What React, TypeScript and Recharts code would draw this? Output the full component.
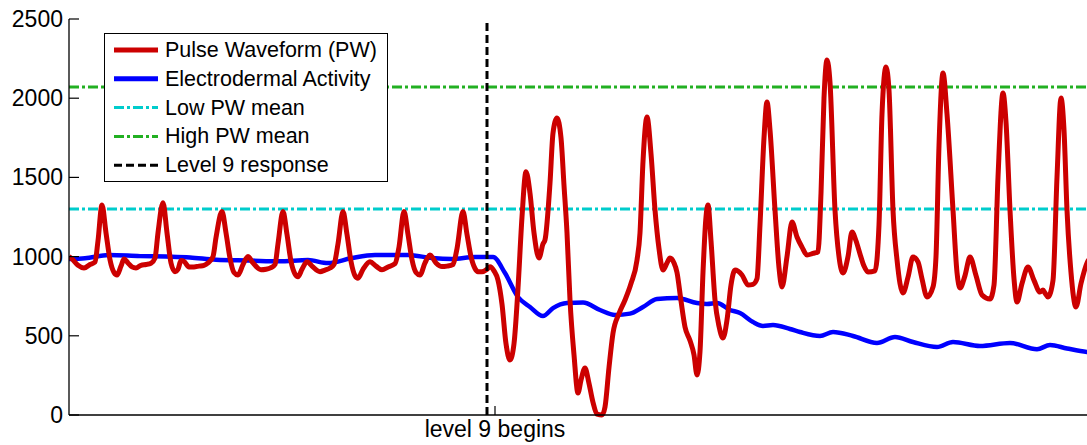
import React from 'react';
import { LineChart, Line, XAxis, YAxis, ReferenceLine } from 'recharts';

// time in samples from the start of the window
const pwTime = [
  0, 3, 9, 15, 21, 26, 29, 33, 37, 41, 45, 48, 52, 55, 59, 63, 67, 72, 77, 82, 86, 89, 94, 98, 102, 106, 109, 112, 115,
  120, 125, 130, 135, 139, 144, 147, 153, 157, 161, 165, 169, 174, 179, 184, 192, 197, 202, 206, 209, 214, 218, 222,
  226, 229, 233, 238, 243, 251, 256, 261, 265, 269, 274, 278, 282, 286, 289, 294, 301, 307, 313, 319, 326, 330, 335,
  339, 343, 347, 351, 356, 361, 367, 373, 378, 384, 388, 394, 398, 402, 406, 409, 413, 418, 421, 425, 429, 433, 437,
  441, 445, 449, 453, 457, 461, 465, 470, 474, 476, 481, 484, 488, 492, 495, 498, 501, 505, 509, 512, 516, 520, 524,
  528, 533, 536, 540, 544, 550, 556, 562, 568, 571, 574, 578, 582, 586, 590, 594, 598, 601, 605, 608, 612, 616, 621,
  625, 628, 631, 634, 637, 639, 642, 646, 650, 654, 658, 662, 666, 673, 679, 684, 688, 691, 695, 698, 701, 706, 710,
  713, 718, 723, 728, 733, 738, 744, 749, 752, 755, 758, 761, 766, 770, 774, 779, 783, 787, 791, 795, 799, 806, 810,
  813, 817, 820, 824, 828, 834, 839, 844, 849, 853, 858, 864, 867, 870, 874, 878, 884, 888, 891, 896, 901, 907, 913,
  921, 925, 929, 934, 937, 941, 945, 948, 953, 959, 965, 971, 974, 976, 979, 984, 988, 992, 995, 998, 1002, 1007,
  1012, 1018, 1023,
];
const pwValue = [
  1000, 985, 945, 928, 950, 966, 1100, 1326, 1150, 980, 900, 884, 940, 985, 960, 935, 928, 945, 950, 958, 990, 1150,
  1340, 1150, 960, 905, 920, 975, 970, 935, 935, 940, 945, 960, 1000, 1120, 1284, 1150, 990, 900, 884, 950, 1000, 960,
  917, 920, 930, 950, 1080, 1284, 1140, 970, 890, 873, 920, 968, 940, 905, 915, 928, 950, 1080, 1284, 1140, 970, 880,
  864, 920, 968, 940, 917, 935, 955, 1060, 1284, 1140, 980, 900, 884, 960, 1010, 960, 937, 940, 950, 1050, 1284, 1140,
  1000, 925, 905, 905, 920, 936, 910, 852, 700, 450, 347, 450, 800, 1250, 1536, 1400, 1150, 991, 1080, 1105, 1464,
  1780, 1875, 1750, 1450, 1150, 726, 380, 139, 220, 297, 200, 80, 5, 0, 50, 300, 517, 640, 726, 830, 978, 1150, 1600,
  1882, 1650, 1294, 1050, 915, 960, 991, 960, 900, 720, 556, 470, 380, 253, 400, 900, 1250, 1326, 1100, 726, 560, 486,
  600, 820, 915, 884, 821, 825, 860, 1200, 1750, 1976, 1800, 1294, 930, 808, 1000, 1218, 1124, 1060, 1010, 1020, 1030,
  1400, 2000, 2241, 2100, 1294, 1000, 896, 1000, 1155, 1100, 1017, 940, 903, 910, 1200, 1900, 2197, 2050, 1294, 980,
  770, 870, 997, 966, 860, 745, 808, 1000, 1700, 2159, 1900, 1294, 900, 802, 880, 997, 880, 758, 733, 820, 1500, 2033,
  1850, 1294, 860, 713, 830, 934, 850, 776, 789, 770, 745, 850, 1500, 2001, 1800, 1294, 900, 682, 830, 960, 1000,
];

const edaTime = [
  0, 16, 40, 71, 97, 121, 147, 181, 210, 239, 259, 283, 306, 339, 363, 383, 406, 424, 436, 449, 461, 474, 484, 498,
  514, 531, 546, 561, 574, 588, 608, 628, 638, 648, 661, 671, 684, 694, 704, 721, 731, 751, 764, 784, 808, 826, 844,
  868, 884, 911, 941, 968, 981, 998, 1018, 1023,
];
const edaValue = [
  985, 990, 1010, 1003, 1000, 995, 980, 975, 970, 978, 959, 991, 1010, 1010, 991, 985, 997, 997, 896, 745, 682, 625,
  675, 707, 710, 663, 631, 640, 682, 732, 739, 707, 701, 707, 663, 644, 587, 562, 568, 543, 524, 499, 524, 499, 455,
  493, 461, 429, 461, 436, 455, 415, 442, 420, 398, 395,
];

const yTicks = [0, 500, 1000, 1500, 2000, 2500];
const xTicks = [426];
const xTickLabels = ['level 9 begins'];
const lowPwMean = 1300;
const highPwMean = 2070;
const levelResponse = 418;
const xDomain = [0, 1020];

const pwData = pwTime.map((t, i) => ({ t, pw: pwValue[i] }));
const edaData = edaTime.map((t, i) => ({ t, eda: edaValue[i] }));

const FONT = '"Liberation Sans", Arial, Helvetica, sans-serif';
const RED = '#cc0000';
const BLUE = '#0000ff';
const CYAN = '#00cccc';
const GREEN = '#22b022';
const DASHDOT = '10 3 3 3';

const LeftTick = (props: any) => {
  const { x, y, payload } = props;
  return (
    <g>
      <line x1={x} y1={y} x2={x + 10} y2={y} stroke="#000" strokeWidth={1.2} />
      <text x={x - 6} y={y} textAnchor="end" dominantBaseline="central" fontSize={23} fontFamily={FONT} fill="#000">
        {payload.value}
      </text>
    </g>
  );
};

const RightTick = (props: any) => {
  const { x, y } = props;
  return <line x1={x - 9} y1={y} x2={x} y2={y} stroke="#000" strokeWidth={1.2} />;
};

const BottomTick = (props: any) => {
  const { x, y, index } = props;
  return (
    <g>
      <line x1={x} y1={y} x2={x} y2={y - 9} stroke="#000" strokeWidth={1.2} />
      <text x={x} y={y + 22} textAnchor="middle" fontSize={23} fontFamily={FONT} fill="#000">
        {xTickLabels[index]}
      </text>
    </g>
  );
};

const TopTick = (props: any) => {
  const { x, y } = props;
  return <line x1={x} y1={y} x2={x} y2={y + 9} stroke="#000" strokeWidth={1.2} />;
};

const legendItems = [
  { label: 'Pulse Waveform (PW)', color: RED, width: 5, dash: undefined },
  { label: 'Electrodermal Activity', color: BLUE, width: 5, dash: undefined },
  { label: 'Low PW mean', color: CYAN, width: 3, dash: DASHDOT },
  { label: 'High PW mean', color: GREEN, width: 3, dash: DASHDOT },
  { label: 'Level 9 response', color: '#000', width: 3, dash: '8 4' },
];

const LegendBox = () => (
  <div
    style={{
      position: 'absolute',
      left: 104,
      top: 33,
      width: 284,
      height: 149,
      border: '1.5px solid #000',
      background: '#fff',
      boxSizing: 'border-box',
    }}
  >
    <svg width={284} height={149} style={{ position: 'absolute', left: -1.5, top: -1.5 }}>
      {legendItems.map((item, i) => {
        const cy = 17 + i * 28.8;
        return (
          <g key={item.label}>
            <line
              x1={10}
              y1={cy}
              x2={54}
              y2={cy}
              stroke={item.color}
              strokeWidth={item.width}
              strokeDasharray={item.dash}
            />
            <text x={61} y={cy} dominantBaseline="central" fontSize={21.5} fontFamily={FONT} fill="#000">
              {item.label}
            </text>
          </g>
        );
      })}
    </svg>
  </div>
);

export default function App() {
  return (
    <div
      style={{
        position: 'fixed',
        left: 0,
        top: 0,
        width: 1087,
        height: 445,
        overflow: 'hidden',
        background: '#fff',
      }}
    >
      <LineChart width={1099} height={445} margin={{ top: 19, right: 0, bottom: 0, left: 0 }}>
        <XAxis
          dataKey="t"
          type="number"
          domain={xDomain}
          ticks={xTicks}
          allowDataOverflow
          height={30}
          tickSize={0}
          tickMargin={0}
          tickLine={false}
          tick={<BottomTick />}
          axisLine={{ stroke: '#000', strokeWidth: 1.3 }}
        />
        <XAxis
          xAxisId="top"
          orientation="top"
          dataKey="t"
          type="number"
          domain={xDomain}
          ticks={xTicks}
          allowDataOverflow
          height={0}
          tickSize={0}
          tickMargin={0}
          tickLine={false}
          tick={<TopTick />}
          axisLine={{ stroke: '#000', strokeWidth: 1.3 }}
        />
        <YAxis
          type="number"
          domain={[0, 2500]}
          ticks={yTicks}
          width={69}
          tickSize={0}
          tickMargin={0}
          tickLine={false}
          tick={<LeftTick />}
          axisLine={{ stroke: '#000', strokeWidth: 1.3 }}
        />
        <YAxis
          yAxisId="right"
          orientation="right"
          type="number"
          domain={[0, 2500]}
          ticks={yTicks}
          width={10}
          tickSize={0}
          tickMargin={0}
          tickLine={false}
          tick={<RightTick />}
          axisLine={{ stroke: '#000', strokeWidth: 1.3 }}
        />
        <ReferenceLine y={lowPwMean} stroke={CYAN} strokeWidth={3} strokeDasharray={DASHDOT} />
        <ReferenceLine y={highPwMean} stroke={GREEN} strokeWidth={3} strokeDasharray={DASHDOT} />
        <Line
          data={edaData}
          dataKey="eda"
          type="monotone"
          stroke={BLUE}
          strokeWidth={4.5}
          dot={false}
          isAnimationActive={false}
        />
        <Line
          data={pwData}
          dataKey="pw"
          type="monotone"
          stroke={RED}
          strokeWidth={5}
          dot={false}
          isAnimationActive={false}
        />
        <ReferenceLine x={levelResponse} stroke="#000" strokeWidth={3} strokeDasharray="8 4" />
      </LineChart>
      <LegendBox />
    </div>
  );
}
